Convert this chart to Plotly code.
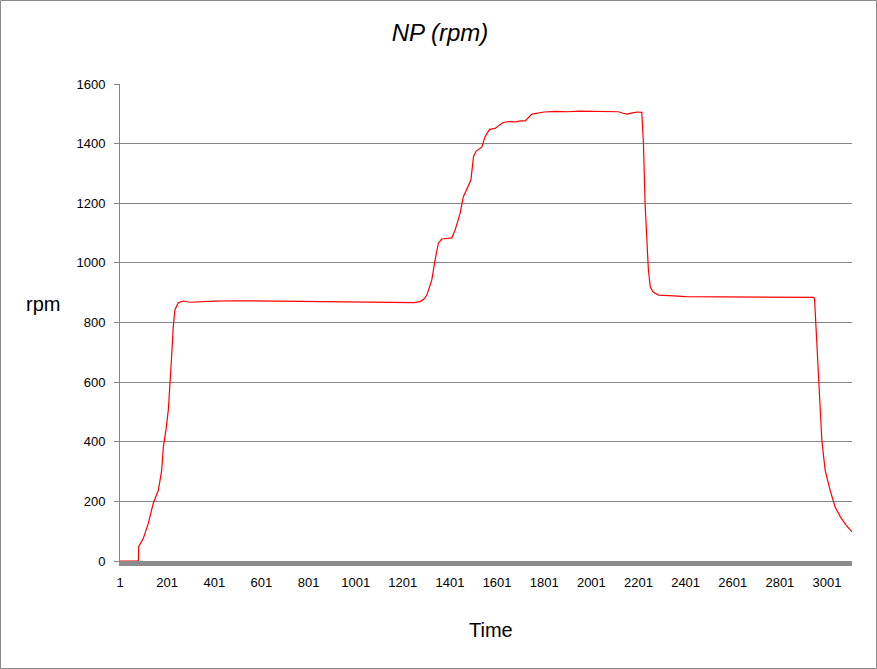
import plotly.graph_objects as go

# sample index (Time) and NP reading
time_idx = [1, 79, 80, 100, 121, 142, 164, 178, 185, 196, 206, 213, 220, 227, 234,
            248, 270, 298, 350, 400, 500, 600, 700, 800, 900, 1000, 1100, 1200, 1250,
            1274, 1290, 1303, 1324, 1338, 1352, 1366, 1385, 1409, 1423, 1444, 1458,
            1473, 1490, 1501, 1512, 1536, 1550, 1569, 1593, 1610, 1628, 1650, 1680,
            1700, 1720, 1749, 1784, 1800, 1850, 1900, 1950, 2000, 2050, 2100, 2116,
            2135, 2152, 2175, 2195, 2215, 2222, 2229, 2237, 2243, 2251, 2262, 2286,
            2300, 2350, 2400, 2500, 2600, 2700, 2800, 2900, 2944, 2948, 2955, 2965,
            2972, 2979, 2993, 3014, 3035, 3057, 3080, 3107]
np_rpm = [0, 0, 48, 76, 126, 193, 238, 305, 383, 439, 506, 585, 685, 786, 842,
          866, 872, 868, 871, 872, 873, 872, 871, 870, 869, 869, 868, 867, 867,
          870, 878, 892, 943, 1010, 1066, 1080, 1082, 1084, 1110, 1166, 1222,
          1250, 1278, 1356, 1375, 1388, 1423, 1448, 1451, 1462, 1471, 1474, 1473,
          1476, 1476, 1499, 1504, 1506, 1508, 1507, 1509, 1508, 1509, 1508, 1507,
          1502, 1499, 1503, 1506, 1505, 1401, 1200, 1054, 976, 920, 903, 892,
          891, 889, 887, 886, 885, 884, 884, 883, 884, 880, 775, 607,
          495, 406, 305, 238, 182, 149, 122, 98]

tick_vals = list(range(1, 3002, 200))
tick_text = [str(v) for v in tick_vals]

GRID = '#868686'
FONT = 'Liberation Sans, Arial, sans-serif'

fig = go.Figure()
fig.add_trace(go.Scatter(x=time_idx, y=np_rpm, mode='lines',
                         line=dict(color='#ff0000', width=1.2),
                         cliponaxis=False, showlegend=False))

fig.update_layout(
    width=877, height=669, autosize=False,
    margin=dict(l=120, r=25, t=84, b=108),
    paper_bgcolor='white', plot_bgcolor='white',
    font=dict(family=FONT, color='black', size=13),
    title=dict(text='<i>NP (rpm)</i>', x=440 / 877, xanchor='center',
               y=1 - 33 / 669, yanchor='middle', font=dict(size=24)),
    xaxis=dict(range=[1, 3107], tickmode='array', tickvals=tick_vals,
               ticktext=tick_text, showgrid=False, zeroline=False,
               showline=True, linecolor='#8c8c8c', linewidth=5, ticks='',
               ticklabelstandoff=5, tickfont=dict(size=13)),
    yaxis=dict(range=[0, 1600], dtick=200, showgrid=True, gridcolor=GRID,
               gridwidth=1, zeroline=False, showline=True, linecolor=GRID,
               linewidth=1, ticks='outside', ticklen=5, tickcolor=GRID,
               ticklabelstandoff=6, tickfont=dict(size=13)),
    annotations=[
        dict(text='rpm', xref='paper', yref='paper',
             x=(42.5 - 120) / 732, y=(561 - 304) / 477,
             xanchor='center', yanchor='middle', showarrow=False,
             font=dict(size=20)),
        dict(text='Time', xref='paper', yref='paper',
             x=(491 - 120) / 732, y=(561 - 630) / 477,
             xanchor='center', yanchor='middle', showarrow=False,
             font=dict(size=20)),
    ],
    shapes=[dict(type='rect', xref='paper', yref='paper',
                 x0=(0.5 - 120) / 732, x1=(876.5 - 120) / 732,
                 y0=(561 - 668.5) / 477, y1=(561 - 0.5) / 477,
                 line=dict(color='#8c8c8c', width=1))],
)

fig.write_html("out.html", config={'displayModeBar': False},
               post_script="document.body.style.margin='0px';"
                           "document.body.style.overflow='hidden';")
